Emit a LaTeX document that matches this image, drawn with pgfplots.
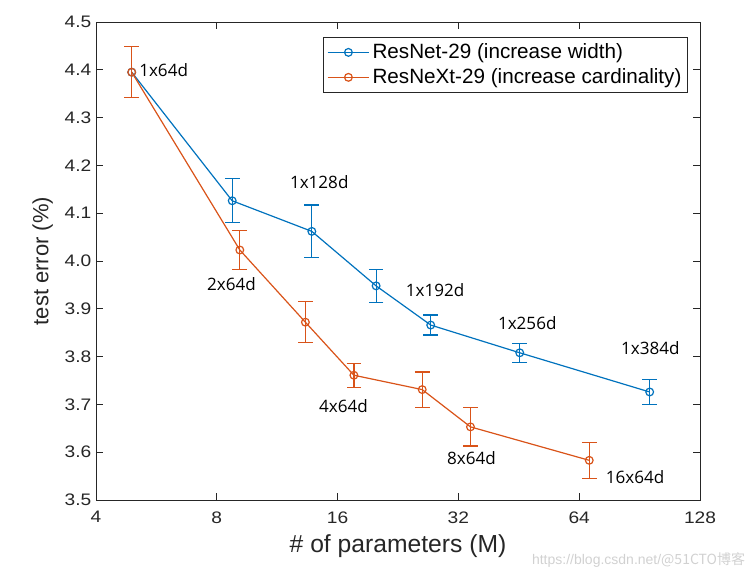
\documentclass[border=0pt]{standalone}
\usepackage{pgfplots}
\pgfplotsset{compat=1.18}
\usepackage{fontspec}
\setmainfont{Liberation Sans}
\newfontfamily\tickfont{Liberation Sans}[FakeStretch=1.15]
\newfontfamily\annfont{Open Sans}
\newfontfamily\cjk{Noto Sans CJK SC}

\definecolor{mblue}{rgb}{0,0.447,0.741}
\definecolor{morange}{rgb}{0.85,0.325,0.098}
\definecolor{maxis}{rgb}{0.15,0.15,0.15}

\begin{document}
\begin{tikzpicture}
\path[use as bounding box] (-72pt,-57pt) rectangle (489pt,375pt);
\begin{axis}[
  at={(0,0)}, anchor=south west,
  scale only axis,
  width=453pt, height=358.5pt,
  xmode=log, log basis x=2,
  xmin=4, xmax=128,
  ymin=3.5, ymax=4.5,
  xtick={4,8,16,32,64,128},
  xticklabels={4,8,16,32,64,128},
  minor xtick={},
  ytick={3.5,3.6,...,4.55},
  yticklabel style={/pgf/number format/.cd, fixed, fixed zerofill, precision=1},
  /pgf/number format/assume math mode=true,
  tick align=inside,
  major tick length=5pt,
  axis line style={maxis, line width=0.6pt},
  tick style={maxis, line width=0.6pt},
  ticklabel style={font=\tickfont\fontsize{12.5}{14}\selectfont, text=maxis},
  xticklabel style={yshift=-5pt},
  xlabel={\# of parameters (M)},
  ylabel={test error (\%)},
  xlabel style={font=\fontsize{18.5}{20}\selectfont, text=maxis, yshift=-2pt},
  ylabel style={font=\fontsize{16.5}{18}\selectfont, text=maxis, yshift=2pt},
  legend style={at={(rel axis cs:0.98,0.969)}, anchor=north east,
    draw=maxis, line width=0.6pt, font=\fontsize{15.5}{18}\selectfont,
    inner xsep=2.5pt, inner ysep=3pt, row sep=2pt},
  legend cell align=left,
  legend image code/.code={
    \draw[mark repeat=2, mark phase=2, #1] plot coordinates {(0cm,0cm) (0.55cm,0cm) (1.1cm,0cm)};
  },
  every axis plot/.append style={line width=0.9pt, mark=o, mark size=2.9pt,
    error bars/y dir=both, error bars/y explicit,
    error bars/error mark=|,
    error bars/error bar style={line width=0.9pt}},
]
\addplot[color=mblue, error bars/error mark options={mark size=5.5pt, line width=0.9pt, draw=mblue}] coordinates {
  (4.91,4.395) +- (0,0.053)
  (8.74,4.126) +- (0,0.046)
  (13.8,4.062) +- (0,0.055)
  (19.96,3.948) +- (0,0.034)
  (27.3,3.866) +- (0,0.021)
  (45.5,3.808) +- (0,0.020)
  (95.9,3.726) +- (0,0.026)
};
\addlegendentry{ResNet-29 (increase width)}
\addplot[color=morange, error bars/error mark options={mark size=5.5pt, line width=0.9pt, draw=morange}] coordinates {
  (4.91,4.395) +- (0,0.053)
  (9.13,4.023) +- (0,0.041)
  (13.3,3.872) +- (0,0.043)
  (17.57,3.761) +- (0,0.025)
  (26.0,3.731) +- (0,0.037)
  (34.3,3.653) +- (0,0.040)
  (67.8,3.583) +- (0,0.038)
};
\addlegendentry{ResNeXt-29 (increase cardinality)}

\begin{scope}[every node/.style={font=\annfont\fontsize{12.8}{14}\selectfont, inner sep=0pt}]
\node[anchor=west] at (axis cs:5.12,4.4) {1x64d};
\node at (axis cs:14.4,4.165) {1x128d};
\node at (axis cs:8.7,3.951) {2x64d};
\node at (axis cs:28.0,3.94) {1x192d};
\node at (axis cs:47.5,3.87) {1x256d};
\node at (axis cs:96.3,3.817) {1x384d};
\node at (axis cs:16.55,3.697) {4x64d};
\node at (axis cs:34.5,3.587) {8x64d};
\node at (axis cs:88.2,3.547) {16x64d};
\end{scope}
\end{axis}
\node[anchor=east, text=black!18, font=\fontsize{10.5}{12}\selectfont, inner sep=0pt] at (487pt,-45pt) {https://blog.csdn.net/{\cjk @51CTO博客}};
\end{tikzpicture}
\end{document}
